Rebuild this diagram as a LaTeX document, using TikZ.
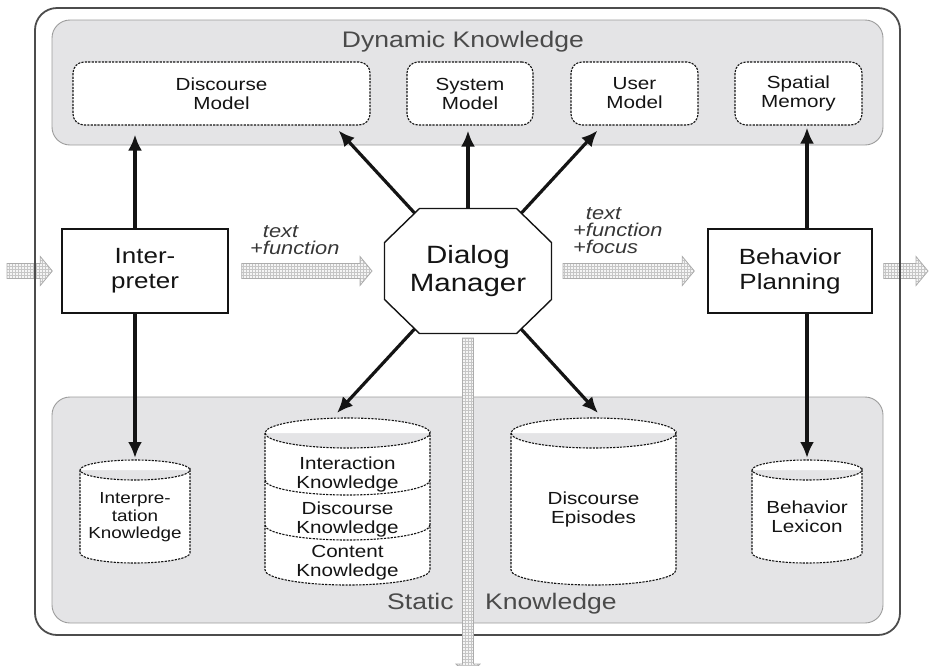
\documentclass[tikz,border=0pt]{standalone}
\usepackage{fontspec}
\setmainfont[FakeStretch=1.18]{Liberation Sans}
\usetikzlibrary{calc,arrows.meta,patterns}
\pgfdeclarelayer{bg}\pgfdeclarelayer{mid}\pgfdeclarelayer{shp}
\pgfsetlayers{bg,mid,shp,main}
\definecolor{panelfill}{HTML}{E4E4E6}
\definecolor{panelline}{HTML}{9C9C9C}
\definecolor{ink}{HTML}{141414}
\definecolor{labelgray}{HTML}{4A4A4A}
% horizontal hatched arrow from #1 to tip #2
\newcommand\fatH[2]{\draw[fat] let \p1=(#1), \p2=(#2) in
  (\x1,\y1+7.5pt) -- (\x2-12pt,\y1+7.5pt) -- (\x2-12pt,\y1+14.5pt) -- (\x2,\y1)
  -- (\x2-12pt,\y1-14.5pt) -- (\x2-12pt,\y1-7.5pt) -- (\x1,\y1-7.5pt) -- cycle;}
% vertical (downward) hatched arrow from #1 to tip #2
\newcommand\fatV[2]{\draw[fat] let \p1=(#1), \p2=(#2) in
  (\x1-5.5pt,\y1) -- (\x1-5.5pt,\y2+12pt) -- (\x1-12pt,\y2+12pt) -- (\x1,\y2)
  -- (\x1+12pt,\y2+12pt) -- (\x1+5.5pt,\y2+12pt) -- (\x1+5.5pt,\y1) -- cycle;}
% cylinder outline around a node: #1 centre, #2 rx, #3 top-ellipse centre above, #4 bottom-arc start below, #5 ry
\newcommand\cylout[5]{\draw[cyl, shift={(#1)}] (-#2,-#3) -- (-#2,#4)
  arc[start angle=180,end angle=0,x radius=#2,y radius=#5] -- (#2,-#3)
  arc[start angle=0,end angle=180,x radius=#2,y radius=#5]
  arc[start angle=180,end angle=360,x radius=#2,y radius=#5];}
\tikzset{
 dbox/.style={draw=ink, line width=1.1pt, dash pattern=on 2.2pt off 1.2pt, rounded corners=11pt,
   fill=white, align=center, inner sep=0pt, text=ink, font=\fontsize{17.5}{19}\selectfont},
 sbox/.style={draw=ink, line width=1.4pt, fill=white, align=center, inner sep=0pt, text=ink,
   font=\fontsize{22}{25}\selectfont},
 dmtext/.style={align=center, inner sep=0pt, text=ink, font=\fontsize{25}{28}\selectfont},
 ctext/.style={align=center, inner sep=0pt, text=ink, font=\fontsize{17.5}{19}\selectfont},
 csmall/.style={align=center, inner sep=0pt, text=ink, font=\fontsize{16}{17.5}\selectfont},
 cyl/.style={draw=ink, line width=1.1pt, dash pattern=on 2.2pt off 1.2pt, fill=white},
 octa/.style={draw=ink, line width=1.4pt, fill=white, line join=miter},
 panel/.style={draw=panelline, line width=0.9pt, fill=panelfill, rounded corners=18pt, inner sep=0pt},
 outerbox/.style={draw=black!70, line width=1.8pt, rounded corners=22pt, inner sep=0pt},
 paneltitle/.style={text=labelgray, inner sep=0pt, font=\fontsize{22.5}{25}\selectfont},
 arr/.style={draw=ink, line width=3.2pt, -{Latex[length=16pt,width=14pt]}},
 fat/.style={draw=gray!65, line width=0.8pt, preaction={fill=gray!8}, pattern=grid, pattern color=gray!45},
 flowlabel/.style={align=left, inner sep=0pt, text=ink!85, font=\fontsize{18.5}{17}\selectfont\itshape},
}
\begin{document}
\begin{tikzpicture}[x=1pt,y=-1pt]
\useasboundingbox (0,0) rectangle (929,665);

% ---------- main nodes ----------
\node[dbox, minimum width=297pt, minimum height=63pt] (dmodel) at (221.5,93.5) {Discourse\\Model};
\node[dbox, minimum width=126pt, minimum height=63pt] (sysm) at (470,93.5) {System\\Model};
\node[dbox, minimum width=127pt, minimum height=63pt] (um) at (634.5,93.5) {User\\Model};
\node[dbox, minimum width=127pt, minimum height=63pt] (sm) at (798.5,93.5) {Spatial\\Memory};

\node[sbox, minimum width=166pt, minimum height=84pt] (interp) at (145,271) {Inter-\\preter};
\node[sbox, minimum width=164pt, minimum height=84pt] (bp) at (790,271) {Behavior\\Planning};
\node[dmtext] (dm) at (468,271) {Dialog\\Manager};

\node[csmall] (ik) at (135,517.5) {Interpre-\\tation\\Knowledge};
\node[ctext] (ck1) at (347.5,474.5) {Interaction\\Knowledge};
\node[ctext] (ck2) at (347.5,519.5) {Discourse\\Knowledge};
\node[ctext] (ck3) at (347.5,562.5) {Content\\Knowledge};
\node[ctext] (de) at (593.5,509) {Discourse\\Episodes};
\node[ctext] (bl) at (807,517) {Behavior\\Lexicon};

\node[paneltitle, anchor=base] (dyntitle) at (463,47) {Dynamic Knowledge};
\node[paneltitle, anchor=base west] (stattitle1) at (387,609) {Static};
\node[paneltitle, anchor=base west] (stattitle2) at (485,609) {Knowledge};

\node[flowlabel, anchor=west] (lab1) at (250,240) {\hphantom{+}text\\+function};
\node[flowlabel, anchor=west] (lab2) at (573,230.5) {\hphantom{+}text\\+function\\+focus};

\coordinate (inp) at (7,271);
\coordinate (outp) at (928,271);
\coordinate (downend) at (468,676);

% ---------- background: frame, panels, side arrows ----------
\begin{pgfonlayer}{bg}
\fatH{inp}{$(interp.west)+(-9,0)$}
\fatH{$(bp.east)+(11,0)$}{outp}
\node[outerbox, minimum width=865pt, minimum height=627pt] (outer) at (467.5,321.5) {};
\node[panel, minimum width=831pt, minimum height=125pt] (dyn) at (467.5,82.5) {};
\node[panel, minimum width=831pt, minimum height=226pt] (stat) at (467.5,510) {};
\end{pgfonlayer}

% ---------- connectors ----------
\begin{pgfonlayer}{mid}
\fatH{$(interp.east)+(13,0)$}{$(dm.center)+(-96,0)$}
\fatH{$(dm.center)+(95,0)$}{$(bp.west)+(-13,0)$}
\fatV{$(dm.center)+(0,67)$}{downend}
\draw[arr, shorten >=9pt] (interp.north -| ik) -- (dmodel.south -| ik);
\draw[arr] (dm.center) -- ($(dmodel.south east)+(-32,5)$);
\draw[arr, shorten >=5pt] (dm.center) -- (dm.center |- sysm.south);
\draw[arr] (dm.center) -- ($(um.south west)+(27,5)$);
\draw[arr, shorten >=2pt] (bp.north -| bl) -- (sm.south -| bl);
\draw[arr] (interp.south -| ik) -- ($(ik.center)+(0,-59.5)$);
\draw[arr] (dm.center) -- ($(ck2.center)+(-10.5,-106.5)$);
\draw[arr] (dm.center) -- ($(de.center)+(4.5,-96)$);
\draw[arr] (bp.south -| bl) -- ($(bl.center)+(0,-59)$);
\end{pgfonlayer}

% ---------- shapes under text ----------
\begin{pgfonlayer}{shp}
\draw[octa, shift={(dm.center)}] (-48.5,-62.5) -- (48.5,-62.5) -- (83.5,-28.5) -- (83.5,28.5)
  -- (48.5,62.5) -- (-48.5,62.5) -- (-83.5,28.5) -- (-83.5,-28.5) -- cycle;
\cylout{ik.center}{55}{47.5}{35.5}{10}
\cylout{bl.center}{55}{47}{36}{10}
\cylout{de.center}{82.5}{76}{61}{15}
\cylout{ck2.center}{82.5}{86.5}{50.5}{15}
\draw[cyl, fill=none, shift={(ck2.center)}] (-82.5,-39.5) arc[start angle=180,end angle=0,x radius=82.5,y radius=15];
\draw[cyl, fill=none, shift={(ck2.center)}] (-82.5,5.5) arc[start angle=180,end angle=0,x radius=82.5,y radius=15];
\end{pgfonlayer}
\end{tikzpicture}
\end{document}
